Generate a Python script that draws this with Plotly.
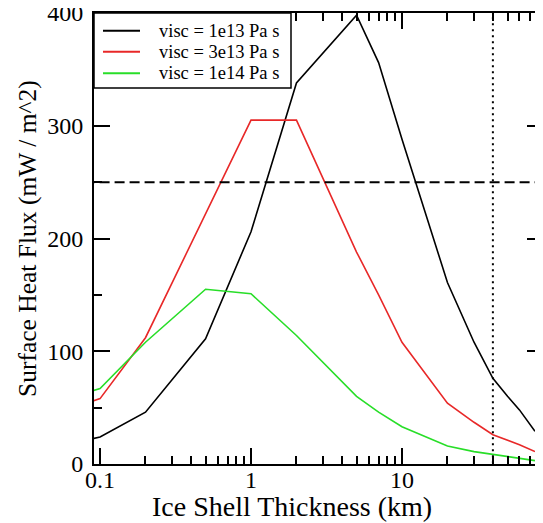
import math
import plotly.graph_objects as go

# ---- data ----
thickness_km = [0.09, 0.1, 0.2, 0.5, 1, 2, 5, 7, 10, 20, 30, 40, 50, 60, 76]
flux_1e13 = [22.5, 24, 46, 111, 206, 338, 398, 356, 288, 161, 108, 76, 60, 48, 29]
flux_3e13 = [56, 58, 112, 222, 305, 305, 188, 150, 108, 54, 37, 26, 21, 17, 11]
flux_1e14 = [65, 67, 108, 155, 151, 114, 60, 46, 33, 16, 11, 8.5, 6, 5, 3]

series_names = ["visc = 1e13 Pa s", "visc = 3e13 Pa s", "visc = 1e14 Pa s"]
series_colors = ["black", "rgb(232,40,40)", "rgb(40,222,40)"]

ref_flux = 250            # dashed horizontal reference
ref_thickness = [40, 84]  # dotted vertical references

x_major = [0.1, 1, 10]
x_major_text = ["0.1", "1", "10"]
x_minor = [0.2, 0.3, 0.4, 0.5, 0.6, 0.7, 0.8, 0.9,
           2, 3, 4, 5, 6, 7, 8, 9,
           20, 30, 40, 50, 60, 70, 80]
y_major = [0, 100, 200, 300, 400]

x_range = [0.0912, 85.9]
y_range = [0, 400]

FONT = "Liberation Serif, Times New Roman, serif"

# page body has an 8px default margin; work in window pixels and convert
OFF = 8
W, H = 543 - OFF, 523 - OFF
PL, PR, PT, PB = 94, 543, 13, 464   # plot area in window pixels


def px(X):
    return (X - PL) / (PR - PL)


def py(Y):
    return (PB - Y) / (PB - PT)


fig = go.Figure()
for name, ys, col in zip(series_names, [flux_1e13, flux_3e13, flux_1e14], series_colors):
    fig.add_trace(go.Scatter(x=thickness_km, y=ys, mode="lines", name=name,
                             line=dict(color=col, width=1.6)))

fig.add_trace(go.Scatter(x=[0.05, 200], y=[ref_flux, ref_flux], mode="lines",
                         showlegend=False, hoverinfo="skip",
                         line=dict(color="black", width=2, dash="10px,5px")))
for xv in ref_thickness:
    fig.add_trace(go.Scatter(x=[xv, xv], y=[-10, 500], mode="lines",
                             showlegend=False, hoverinfo="skip",
                             line=dict(color="black", width=2, dash="2px,4px")))

# legend box (drawn as shapes + annotations for exact spacing)
shapes = [dict(type="rect", xref="paper", yref="paper",
               x0=0, x1=px(291), y0=py(88), y1=1, layer="above",
               fillcolor="white", line=dict(color="black", width=1.5))]
annotations = []
row_y = [30.7, 51.7, 73.3]
for name, col, ry in zip(series_names, series_colors, row_y):
    shapes.append(dict(type="line", xref="paper", yref="paper", layer="above",
                       x0=px(103), x1=px(140), y0=py(ry), y1=py(ry),
                       line=dict(color=col, width=2)))
    annotations.append(dict(text=name, xref="paper", yref="paper",
                            x=px(157), y=py(ry), xanchor="left", yanchor="middle",
                            showarrow=False,
                            font=dict(family=FONT, size=18.5, color="black")))

annotations += [
    dict(text="Ice Shell Thickness (km)", xref="paper", yref="paper",
         x=px(292), y=py(506.5), xanchor="center", yanchor="middle",
         showarrow=False, font=dict(family=FONT, size=28, color="black")),
    dict(text="Surface Heat Flux (mW / m^2)", xref="paper", yref="paper",
         x=px(27), y=py(239), xanchor="center", yanchor="middle", textangle=-90,
         showarrow=False, font=dict(family=FONT, size=25.5, color="black")),
]

fig.update_layout(
    width=W, height=H,
    margin=dict(l=PL - OFF, r=0, t=PT - OFF, b=(523 - PB)),
    paper_bgcolor="white", plot_bgcolor="white",
    font=dict(family=FONT, color="black"),
    showlegend=False,
    shapes=shapes,
    annotations=annotations,
)

fig.update_xaxes(type="log", range=[math.log10(x_range[0]), math.log10(x_range[1])],
                 tickmode="array", tickvals=x_major, ticktext=x_major_text,
                 ticks="inside", ticklen=16, tickwidth=1.5, tickcolor="black",
                 minor=dict(ticks="inside", ticklen=8, tickwidth=1.5, tickcolor="black",
                            tickmode="array", tickvals=x_minor, showgrid=False),
                 showline=True, linewidth=2, linecolor="black", mirror="ticks",
                 showgrid=False, zeroline=False, automargin=False,
                 ticklabeloverflow="allow",
                 tickfont=dict(family=FONT, size=24, color="black"),
                 ticklabelstandoff=-7)
fig.update_yaxes(range=y_range, tickmode="array", tickvals=y_major,
                 ticks="inside", ticklen=16, tickwidth=1.5, tickcolor="black",
                 minor=dict(ticks="inside", ticklen=8, tickwidth=1.5, tickcolor="black",
                            dtick=50, showgrid=False),
                 showline=True, linewidth=2, linecolor="black", mirror="ticks",
                 showgrid=False, zeroline=False, automargin=False,
                 ticklabeloverflow="allow",
                 tickfont=dict(family=FONT, size=24, color="black"),
                 ticklabelstandoff=4)

fig.write_html("out.html")
